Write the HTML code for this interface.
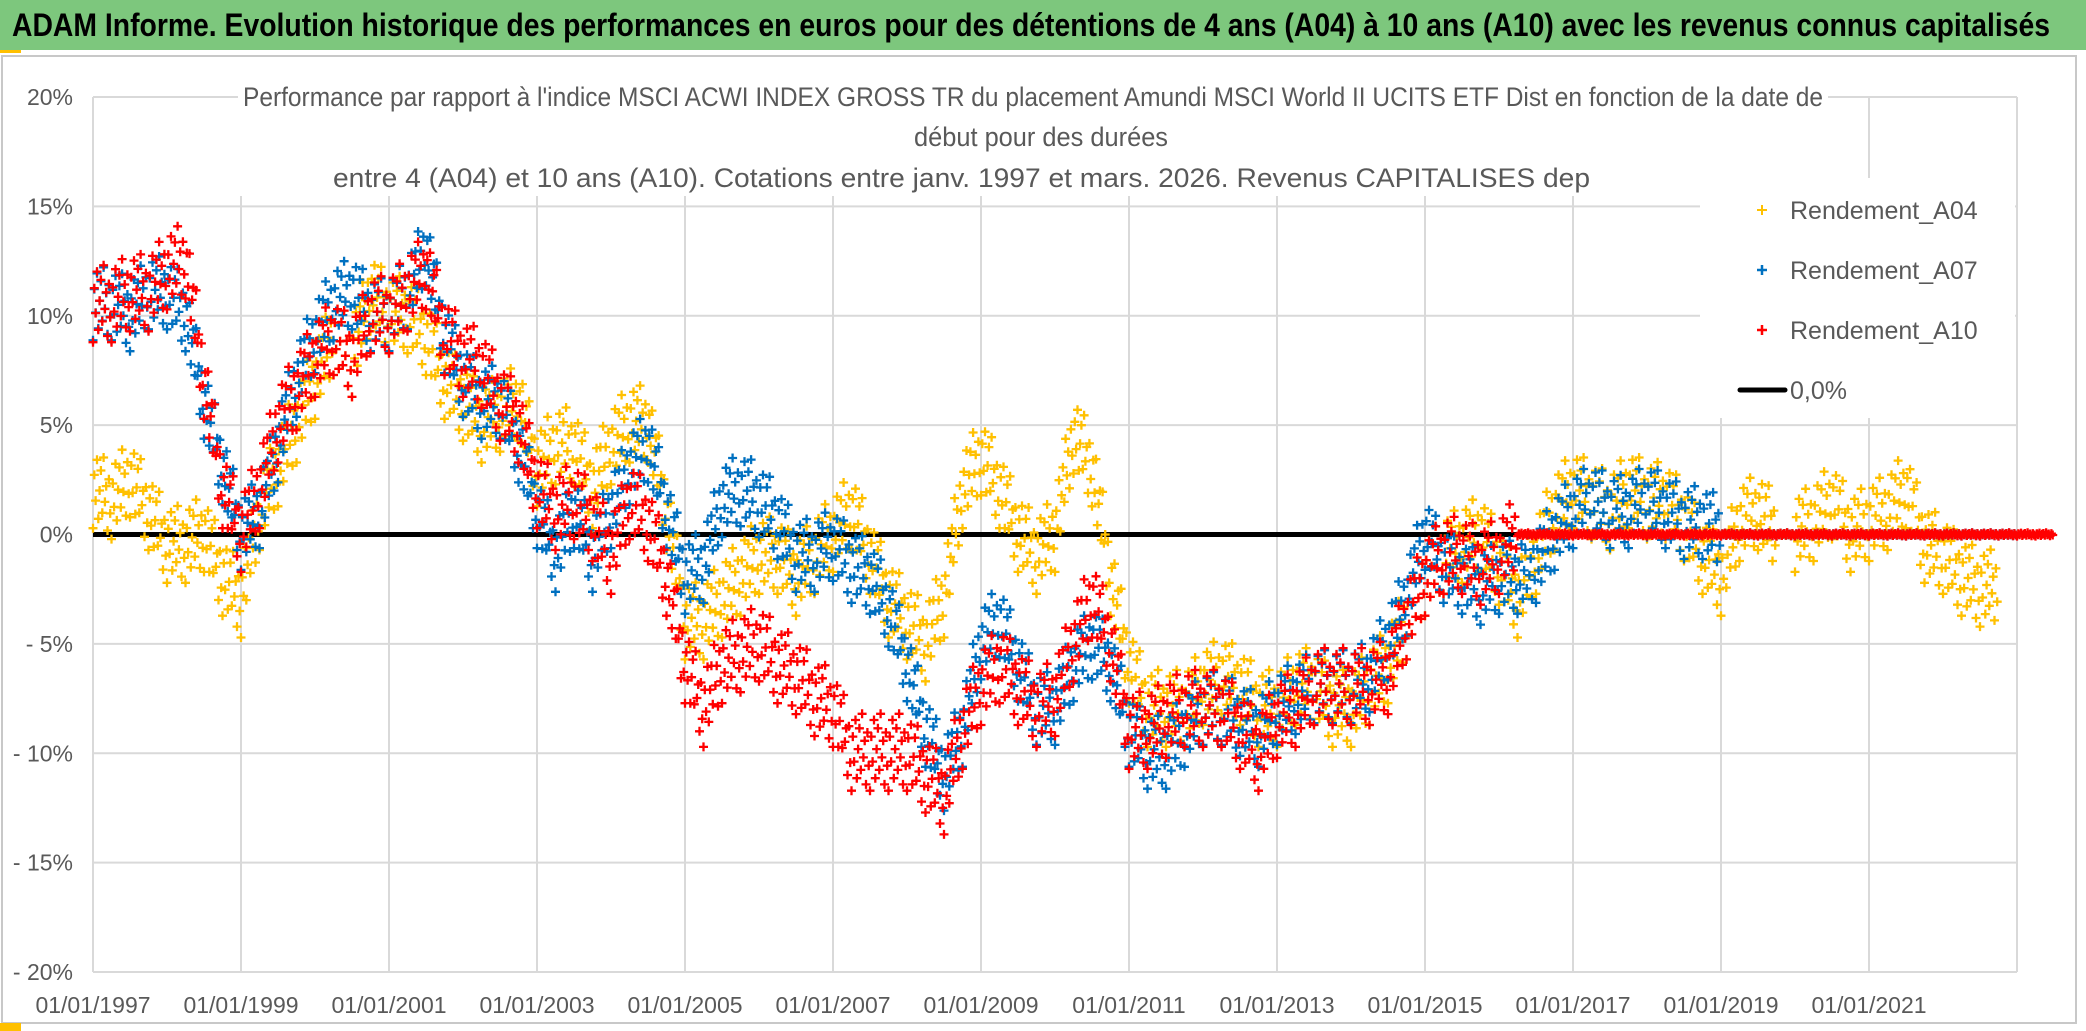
<!DOCTYPE html>
<html><head><meta charset="utf-8"><style>
html,body{margin:0;padding:0;background:#fff;}
svg{display:block;}
text{font-family:"Liberation Sans Narrow","Liberation Sans",sans-serif;}
</style></head><body>
<svg id="chart" width="2086" height="1031" viewBox="0 0 2086 1031" xmlns="http://www.w3.org/2000/svg">
<rect x="0" y="0" width="2086" height="1031" fill="#fff"/>
<rect x="2" y="56" width="2074" height="967" fill="none" stroke="#c8c8c8" stroke-width="2"/>
<rect x="0" y="0" width="2086" height="50" fill="#7DC77D"/>
<text x="12" y="36" font-size="32" font-weight="bold" fill="#000" textLength="2038" lengthAdjust="spacingAndGlyphs">ADAM Informe. Evolution historique des performances en euros pour des détentions de 4 ans (A04) à 10 ans (A10) avec les revenus connus capitalisés</text>
<rect x="0" y="50" width="21" height="3" fill="#FFC000"/>
<rect x="0" y="1023" width="21" height="8" fill="#FFC000"/>
<g id="grid"></g>
<g id="axes"></g>
<g id="marks"></g>
<g fill="#595959" font-size="27">
<rect x="238" y="78" width="1590" height="118" fill="#fff"/>
<text x="243" y="106" textLength="1580" lengthAdjust="spacingAndGlyphs">Performance par rapport à l'indice MSCI ACWI INDEX GROSS TR  du placement Amundi MSCI World II UCITS ETF Dist en fonction de la date de</text>
<text x="914" y="146" textLength="254" lengthAdjust="spacingAndGlyphs">début pour des durées</text>
<text x="333" y="187" textLength="1257" lengthAdjust="spacingAndGlyphs">entre 4 (A04) et 10 ans (A10). Cotations entre janv. 1997 et mars. 2026. Revenus CAPITALISES dep</text>
</g>
<g font-size="25" fill="#595959">
<rect x="1700" y="178" width="315" height="240" fill="#fff"/>
<g><path d="M1757 210h10M1762 205v10" stroke="#FFC000" stroke-width="2"/><text x="1790" y="219">Rendement_A04</text></g>
<g><path d="M1757 270h10M1762 265v10" stroke="#0070C0" stroke-width="2.5"/><text x="1790" y="279">Rendement_A07</text></g>
<g><path d="M1757 330h10M1762 325v10" stroke="#FF0000" stroke-width="2.5"/><text x="1790" y="339">Rendement_A10</text></g>
<g><path d="M1740 390h45" stroke="#000" stroke-width="5" stroke-linecap="round"/><text x="1790" y="399">0,0%</text></g>
</g>
</svg>
<script>
// ---- data ----
const startYear = 1997;          // first quarter of every series
const stepYears = 0.25;          // quarterly samples
const yTicks = [20,15,10,5,0,-5,-10,-15,-20];
const yTickLabels = ["20%","15%","10%","5%","0%","- 5%","- 10%","- 15%","- 20%"];
const xTickYears = [1997,1999,2001,2003,2005,2007,2009,2011,2013,2015,2017,2019,2021];
const xTickLabels = ["01/01/1997","01/01/1999","01/01/2001","01/01/2003","01/01/2005","01/01/2007","01/01/2009","01/01/2011","01/01/2013","01/01/2015","01/01/2017","01/01/2019","01/01/2021"];
const valuesA04 = [2,1.5,2.5,1,-0.5,-0.5,0,-2,-3,1,3,5,7,9,8,11,10,10,9,7,6,5,5.5,6,3,4,4,2,4,5,5,1,-4,-4,-3,-2,-1,-1,-2,-1,0,1,-1,-3,-4,-5,-3,2,3.5,2,0,-1,0,4.5,3,-2,-6,-8,-8,-8,-7,-6.5,-7,-8,-8,-7,-7,-8,-8,-7,-6,-4,-2,-1,-0.5,0,-1.5,-3,-1,1,2,1.5,1,2,1.5,1.5,0.5,-1,-2,0.5,1,0,0,0.5,1.5,0,0.5,1,2,-0.5,-1,-2,-2.5];
const valuesA07 = [10.5,10.5,10,11,11,10,6,3,0,1,4,7,9,10.5,11,10,10,11,13,9,7,6,6,4,1,-1,1,-1,1,3,4,1,-2,-1.5,1.5,2,1.5,0.5,-1,-1,-0.5,-1.5,-2,-3.5,-6,-9,-11,-9,-5,-4,-6,-8,-8,-6,-5,-6,-9,-10,-10,-9,-8,-8,-8.5,-9,-8,-7.5,-7,-7,-7,-6.5,-5,-3,0,-1.5,-2,-2.5,-2,-2,-1.5,0,1,1.5,1,1,1.5,1,0.5,0.5,0,0,0,0,0,0,0,0,0,0,0,0,0,0,0,0];
const valuesA10 = [10.5,10.5,11,11,12,12.5,7,2,0,2,5,6.5,8,9,8,10,10,11,12,9,8,7.5,6,5,2,1,1.5,0.5,-1,1.5,0.5,-2,-6,-8,-6,-5.5,-5,-6,-6.5,-7.5,-8,-10,-10,-10,-10,-11,-12,-9,-7,-6,-7,-8,-7.5,-5,-3,-5,-9,-9,-8.5,-8,-8,-8,-9,-10,-8.5,-8,-7,-7,-7,-7,-6.5,-4,-2,-1,-1,-1.5,-1,0,0,0,0,0,0,0,0,0,0,0,0,0,0,0,0,0,0,0,0,0,0,0,0,0,0,0,0,0];
const spreadA04 = 1.9, spreadA07 = 1.8, spreadA10 = 1.9;
const zeroLineValue = 0;
const xMin = 1997, xMax = 2023, yMin = -20, yMax = 20;

// ---- geometry ----
const plotL = 93, plotR = 2017, plotT = 97, plotB = 972;
function xs(yr){ return plotL + (yr - xMin) / (xMax - xMin) * (plotR - plotL); }
function ys(v){ return plotT + (yMax - v) / (yMax - yMin) * (plotB - plotT); }
const NS = "http://www.w3.org/2000/svg";
function mk(tag, attrs, parent){ const e = document.createElementNS(NS, tag); for (const k in attrs) e.setAttribute(k, attrs[k]); parent.appendChild(e); return e; }

const grid = document.getElementById('grid');
const axes = document.getElementById('axes');
yTicks.forEach((t, i) => {
  const l = mk('line', {x1: plotL, x2: plotR, y1: ys(t), y2: ys(t), stroke: '#d9d9d9', 'stroke-width': 2}, grid);
  
  
  const tx = mk('text', {x: 73, y: ys(t) + 8, 'text-anchor': 'end', 'font-size': 23, fill: '#595959'}, axes);
  tx.textContent = yTickLabels[i];
  
  
});
for (let yr = xMin; yr <= xMax; yr += 2) {
  const l = mk('line', {x1: xs(yr), x2: xs(yr), y1: plotT, y2: plotB, stroke: '#d9d9d9', 'stroke-width': 2}, grid);
  
  
}
xTickYears.forEach((yr, i) => {
  const tx = mk('text', {x: xs(yr), y: 1013, 'text-anchor': 'middle', 'font-size': 23, fill: '#595959'}, axes);
  tx.textContent = xTickLabels[i];
  
  
});

const marks = document.getElementById('marks');
const zl = mk('line', {x1: xs(xMin), x2: xs(xMax) - 2, y1: ys(zeroLineValue), y2: ys(zeroLineValue), stroke: '#000', 'stroke-width': 5}, marks);



const offs = [-0.9,0.4,-0.2,0.8,-0.6,0.1,0.6,-0.4,0.95,-0.1,0.3,-0.75,0.5,-0.3];
function drawSeries(vals, spread, color, name){
  const g = mk('g', {stroke: color, 'stroke-width': 2.3}, marks);
  
  
  let d = '';
  for (let i = 0; i < vals.length; i++) {
    const v0 = vals[i], v1 = i + 1 < vals.length ? vals[i+1] : vals[i];
    const sp = (v0 === 0 && v1 === 0) ? 0.08 : spread;
    for (let k = 0; k < offs.length; k++) {
      const f = k / offs.length;
      const yr = startYear + (i + f) * stepYears;
      const v = v0 + (v1 - v0) * f + offs[k] * sp;
      const x = xs(yr), y = ys(v);
      d += 'M' + (x-4.5).toFixed(1) + ' ' + y.toFixed(1) + 'h9M' + x.toFixed(1) + ' ' + (y-4.5).toFixed(1) + 'v9';
    }
  }
  const p = mk('path', {d: d}, g);
  
  
}
drawSeries(valuesA04, spreadA04, '#FFC000', 'series-a04');
drawSeries(valuesA07, spreadA07, '#0070C0', 'series-a07');
drawSeries(valuesA10, spreadA10, '#FF0000', 'series-a10');
</script>
</body></html>
